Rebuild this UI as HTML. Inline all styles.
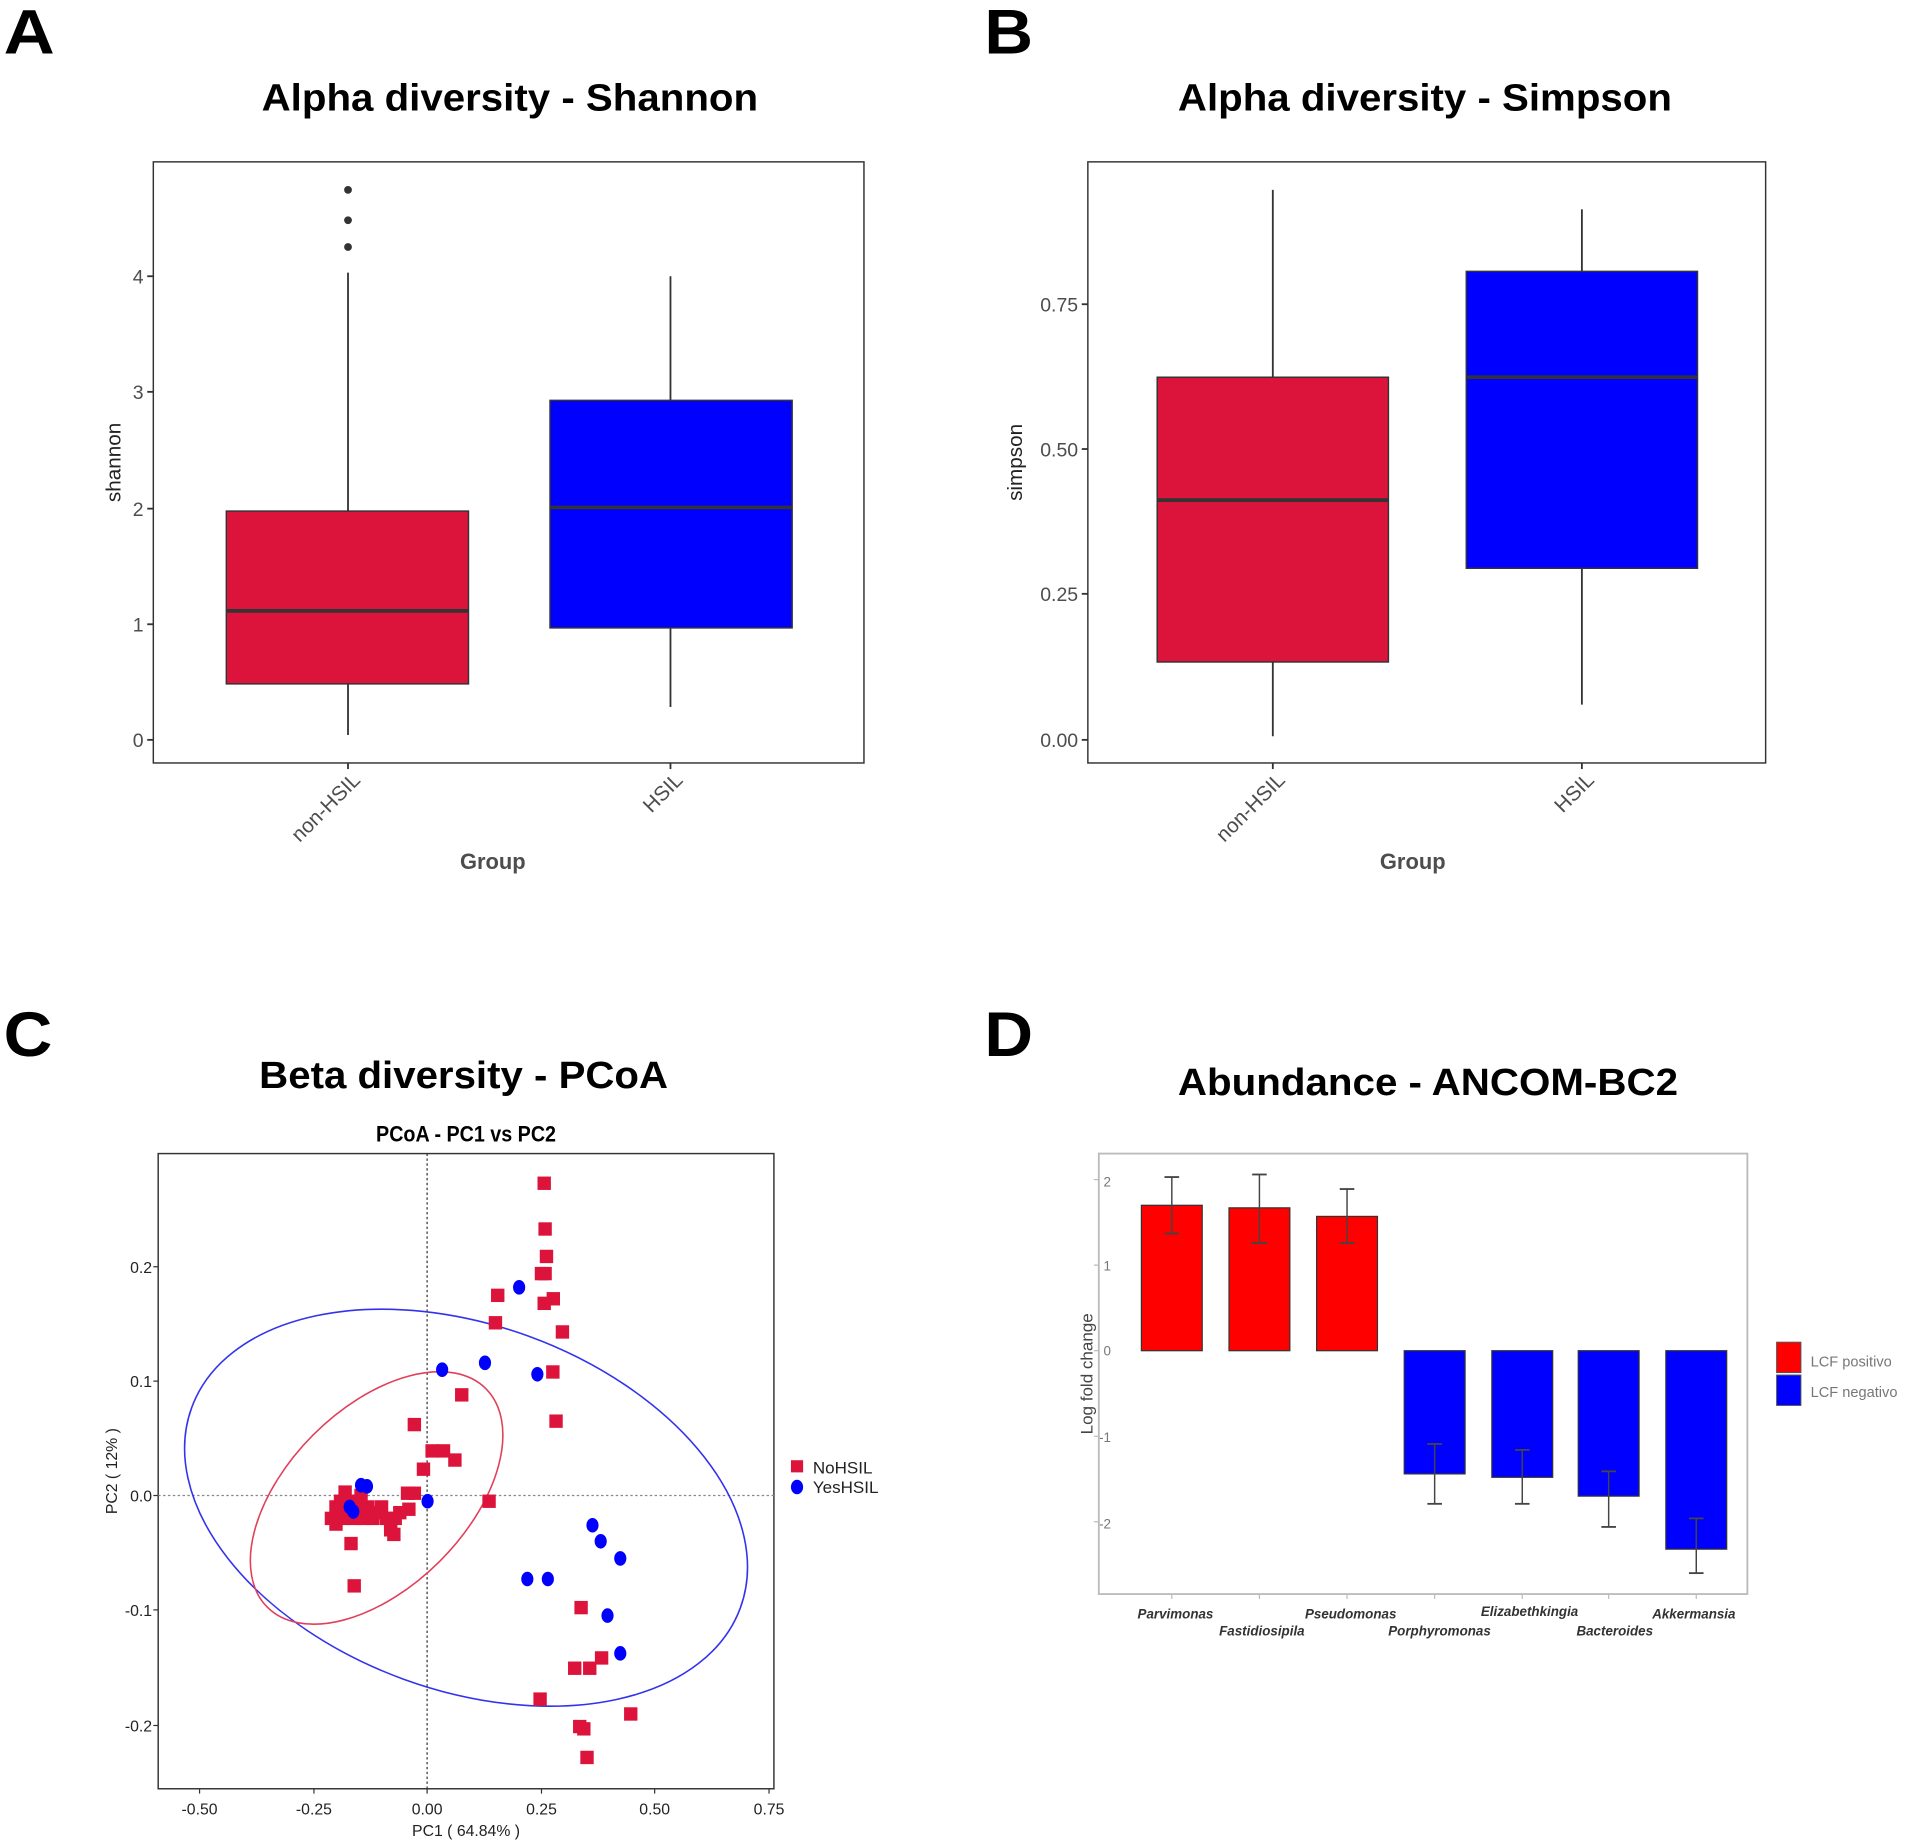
<!DOCTYPE html>
<html><head><meta charset="utf-8"><style>
html,body{margin:0;padding:0;background:#fff;}
svg{display:block;}
text{font-family:"Liberation Sans",sans-serif;}
</style></head><body>
<svg id="s" width="1908" height="1845" viewBox="0 0 1568 1516.2" xmlns="http://www.w3.org/2000/svg">
<rect width="1568" height="1516.2" fill="#fff"/>
<g font-weight="bold" fill="#000">
<text x="3" y="44" font-size="52" textLength="42" lengthAdjust="spacingAndGlyphs">A</text>
<text x="809" y="44" font-size="52" textLength="40" lengthAdjust="spacingAndGlyphs">B</text>
<text x="3" y="868" font-size="52" textLength="40" lengthAdjust="spacingAndGlyphs">C</text>
<text x="809" y="868" font-size="52" textLength="40" lengthAdjust="spacingAndGlyphs">D</text>
<text x="215" y="91" font-size="31" textLength="408" lengthAdjust="spacingAndGlyphs">Alpha diversity - Shannon</text>
<text x="968" y="91" font-size="31" textLength="406" lengthAdjust="spacingAndGlyphs">Alpha diversity - Simpson</text>
<text x="213" y="894" font-size="31" textLength="336" lengthAdjust="spacingAndGlyphs">Beta diversity - PCoA</text>
<text x="968" y="900" font-size="31" textLength="411" lengthAdjust="spacingAndGlyphs">Abundance - ANCOM-BC2</text>
</g>

<!-- Panel A -->
<rect x="126" y="133" width="584" height="494" fill="none" stroke="#333" stroke-width="1.2"/>
<g stroke="#333" stroke-width="1.5">
<line x1="121" x2="126" y1="608" y2="608"/><line x1="121" x2="126" y1="513" y2="513"/><line x1="121" x2="126" y1="418" y2="418"/><line x1="121" x2="126" y1="322" y2="322"/><line x1="121" x2="126" y1="227" y2="227"/>
<line x1="286" x2="286" y1="627" y2="632"/><line x1="551" x2="551" y1="627" y2="632"/>
<line x1="286" x2="286" y1="604" y2="562"/><line x1="286" x2="286" y1="420" y2="224"/>
<line x1="551" x2="551" y1="581" y2="516"/><line x1="551" x2="551" y1="329" y2="227"/>
</g>
<rect x="186" y="420" width="199" height="142" fill="#DC143C" stroke="#333" stroke-width="1.2"/>
<line x1="186" x2="385" y1="502" y2="502" stroke="#333" stroke-width="3"/>
<rect x="452" y="329" width="199" height="187" fill="#0000FF" stroke="#333" stroke-width="1.2"/>
<line x1="452" x2="651" y1="417" y2="417" stroke="#333" stroke-width="3"/>
<g fill="#333"><circle cx="286" cy="156" r="3.2"/><circle cx="286" cy="181" r="3.2"/><circle cx="286" cy="203" r="3.2"/></g>
<g font-size="16" fill="#4d4d4d" text-anchor="end">
<text x="118" y="614">0</text><text x="118" y="519">1</text><text x="118" y="424">2</text><text x="118" y="328">3</text><text x="118" y="233">4</text>
</g>
<text transform="translate(99,380) rotate(-90)" font-size="17" fill="#222" text-anchor="middle">shannon</text>
<text transform="translate(297,642) rotate(-45)" font-size="17" fill="#4d4d4d" text-anchor="end">non-HSIL</text>
<text transform="translate(562,642) rotate(-45)" font-size="17" fill="#4d4d4d" text-anchor="end">HSIL</text>
<text x="405" y="714" font-size="18" font-weight="bold" fill="#4d4d4d" text-anchor="middle">Group</text>

<!-- Panel B -->
<rect x="894" y="133" width="557" height="494" fill="none" stroke="#333" stroke-width="1.2"/>
<g stroke="#333" stroke-width="1.5">
<line x1="889" x2="894" y1="608" y2="608"/><line x1="889" x2="894" y1="488" y2="488"/><line x1="889" x2="894" y1="369" y2="369"/><line x1="889" x2="894" y1="250" y2="250"/>
<line x1="1046" x2="1046" y1="627" y2="632"/><line x1="1300" x2="1300" y1="627" y2="632"/>
<line x1="1046" x2="1046" y1="605" y2="544"/><line x1="1046" x2="1046" y1="310" y2="156"/>
<line x1="1300" x2="1300" y1="579" y2="467"/><line x1="1300" x2="1300" y1="223" y2="172"/>
</g>
<rect x="951" y="310" width="190" height="234" fill="#DC143C" stroke="#333" stroke-width="1.2"/>
<line x1="951" x2="1141" y1="411" y2="411" stroke="#333" stroke-width="3"/>
<rect x="1205" y="223" width="190" height="244" fill="#0000FF" stroke="#333" stroke-width="1.2"/>
<line x1="1205" x2="1395" y1="310" y2="310" stroke="#333" stroke-width="3"/>
<g font-size="16" fill="#4d4d4d" text-anchor="end">
<text x="886" y="614">0.00</text><text x="886" y="494">0.25</text><text x="886" y="375">0.50</text><text x="886" y="256">0.75</text>
</g>
<text transform="translate(840,380) rotate(-90)" font-size="17" fill="#222" text-anchor="middle">simpson</text>
<text transform="translate(1057,642) rotate(-45)" font-size="17" fill="#4d4d4d" text-anchor="end">non-HSIL</text>
<text transform="translate(1311,642) rotate(-45)" font-size="17" fill="#4d4d4d" text-anchor="end">HSIL</text>
<text x="1161" y="714" font-size="18" font-weight="bold" fill="#4d4d4d" text-anchor="middle">Group</text>

<!-- Panel C -->
<text x="383" y="938" font-size="18" font-weight="bold" text-anchor="middle" transform="translate(383,0) scale(0.9,1) translate(-383,0)">PCoA - PC1 vs PC2</text>
<rect x="130" y="948" width="506" height="522" fill="none" stroke="#333" stroke-width="1.2"/>
<line x1="351" x2="351" y1="948" y2="1470" stroke="#333" stroke-width="1" stroke-dasharray="2,2"/>
<line x1="130" x2="636" y1="1229" y2="1229" stroke="#888" stroke-width="1" stroke-dasharray="2,2"/>
<ellipse cx="383" cy="1239" rx="240" ry="150" transform="rotate(20 383 1239)" fill="none" stroke="#3333ee" stroke-width="1.3"/>
<ellipse cx="309.5" cy="1231" rx="127" ry="73.5" transform="rotate(-45 309.5 1231)" fill="none" stroke="#e0405a" stroke-width="1.3"/>
<g id="pts"></g>
<g font-size="13" fill="#222" text-anchor="middle">
<text x="164" y="1491">-0.50</text><text x="258" y="1491">-0.25</text><text x="351" y="1491">0.00</text><text x="445" y="1491">0.25</text><text x="538" y="1491">0.50</text><text x="632" y="1491">0.75</text>
<text x="383" y="1509">PC1 ( 64.84% )</text>
</g>
<g font-size="13" fill="#222" text-anchor="end">
<text x="125" y="1046">0.2</text><text x="125" y="1140">0.1</text><text x="125" y="1234">0.0</text><text x="125" y="1328">-0.1</text><text x="125" y="1423">-0.2</text>
</g>
<g stroke="#333"><line x1="126" x2="130" y1="1041" y2="1041"/><line x1="126" x2="130" y1="1135" y2="1135"/><line x1="126" x2="130" y1="1229" y2="1229"/><line x1="126" x2="130" y1="1323" y2="1323"/><line x1="126" x2="130" y1="1418" y2="1418"/>
<line x1="164" x2="164" y1="1470" y2="1474"/><line x1="258" x2="258" y1="1470" y2="1474"/><line x1="351" x2="351" y1="1470" y2="1474"/><line x1="445" x2="445" y1="1470" y2="1474"/><line x1="538" x2="538" y1="1470" y2="1474"/><line x1="632" x2="632" y1="1470" y2="1474"/></g>
<text transform="translate(96,1209) rotate(-90)" font-size="13" fill="#222" text-anchor="middle">PC2 ( 12% )</text>
<rect x="650" y="1200" width="10" height="10" fill="#DC143C"/>
<ellipse cx="655" cy="1222" rx="5" ry="6" fill="#0000FF"/>
<text x="668" y="1211" font-size="14" fill="#222">NoHSIL</text>
<text x="668" y="1227" font-size="14" fill="#222">YesHSIL</text>

<!-- Panel D -->
<rect x="903" y="948" width="533" height="362" fill="none" stroke="#bbb" stroke-width="1.5"/>
<g id="bars"></g>
<g font-size="11" fill="#777" text-anchor="end">
<text x="913" y="975">2</text><text x="913" y="1044">1</text><text x="913" y="1114">0</text><text x="913" y="1185">-1</text><text x="913" y="1256">-2</text>
</g>
<text transform="translate(898,1129) rotate(-90)" font-size="14" fill="#444" text-anchor="middle">Log fold change</text>
<g font-size="11" font-weight="bold" font-style="italic" fill="#333" text-anchor="middle">
<text x="966" y="1330">Parvimonas</text><text x="1037" y="1344">Fastidiosipila</text><text x="1110" y="1330">Pseudomonas</text><text x="1183" y="1344">Porphyromonas</text><text x="1257" y="1328">Elizabethkingia</text><text x="1327" y="1344">Bacteroides</text><text x="1392" y="1330">Akkermansia</text>
</g>
<rect x="1460" y="1103" width="20" height="25" fill="#FF0000" stroke="#555" stroke-width="0.8"/>
<rect x="1460" y="1130" width="20" height="25" fill="#0000FF" stroke="#555" stroke-width="0.8"/>
<text x="1488" y="1123" font-size="12" fill="#777">LCF positivo</text>
<text x="1488" y="1148" font-size="12" fill="#777">LCF negativo</text>
</svg>
<script>
var NS="http://www.w3.org/2000/svg";
function el(p,t,a){var e=document.createElementNS(NS,t);for(var k in a)e.setAttribute(k,a[k]);p.appendChild(e);return e;}
var g=document.getElementById("pts");
function X(v){return 351+374.4*v;} function Y(v){return 1229-940*v;}
var red=[[0.257,0.273],[0.259,0.233],[0.262,0.209],[0.251,0.194],[0.259,0.194],[0.155,0.175],[0.277,0.172],[0.257,0.168],[0.150,0.151],[0.297,0.143],[0.276,0.108],[0.076,0.088],[0.283,0.065],[-0.028,0.062],[0.011,0.039],[0.036,0.039],[0.061,0.031],[-0.008,0.023],[-0.028,0.002],[-0.043,0.002],[0.136,-0.005],[-0.167,-0.042],[-0.073,-0.034],[-0.160,-0.079],[0.338,-0.098],[0.324,-0.151],[0.357,-0.151],[0.383,-0.142],[0.248,-0.178],[0.447,-0.191],[0.335,-0.202],[0.344,-0.204],[0.351,-0.229],
[-0.21,-0.02],[-0.20,-0.01],[-0.19,-0.005],[-0.18,0.003],[-0.17,-0.015],[-0.16,-0.02],[-0.15,-0.005],[-0.14,-0.02],[-0.13,-0.01],[-0.12,-0.02],[-0.11,-0.015],[-0.10,-0.01],[-0.09,-0.02],[-0.08,-0.025],[-0.07,-0.02],[-0.06,-0.015],[-0.04,-0.012],[-0.20,-0.025],[-0.185,-0.02],[-0.165,-0.005],[-0.145,0.0],[-0.08,-0.03],[-0.19,-0.012],[-0.155,-0.01]];
red.forEach(function(p){el(g,"rect",{x:X(p[0])-5.5,y:Y(p[1])-5.5,width:11,height:11,fill:"#DC143C"});});
var blue=[[0.202,0.182],[0.033,0.110],[0.127,0.116],[0.242,0.106],[0.001,-0.005],[-0.145,0.009],[-0.132,0.008],[-0.162,-0.014],[-0.17,-0.01],[0.363,-0.026],[0.381,-0.040],[0.424,-0.055],[0.220,-0.073],[0.265,-0.073],[0.396,-0.105],[0.424,-0.138]];
blue.forEach(function(p){el(g,"ellipse",{cx:X(p[0]),cy:Y(p[1]),rx:5,ry:6,fill:"#0000FF"});});
var b=document.getElementById("bars");
function YD(v){return 1110-70.3*v;}
var bars=[[963,1.70,1.37,2.03],[1035,1.67,1.26,2.06],[1107,1.57,1.26,1.89],[1179,-1.44,-1.09,-1.79],[1251,-1.48,-1.16,-1.79],[1322,-1.70,-1.41,-2.06],[1394,-2.32,-1.96,-2.60]];
bars.forEach(function(d){var y0=YD(0),y1=YD(d[1]);
el(b,"rect",{x:d[0]-25,y:Math.min(y0,y1),width:50,height:Math.abs(y1-y0),fill:d[1]>0?"#FF0000":"#0000FF",stroke:"#333","stroke-width":1});
var e1=YD(d[2]),e2=YD(d[3]);
el(b,"line",{x1:d[0],x2:d[0],y1:e1,y2:e2,stroke:"#444","stroke-width":1.2});
el(b,"line",{x1:d[0]-6,x2:d[0]+6,y1:e1,y2:e1,stroke:"#444","stroke-width":1.5});
el(b,"line",{x1:d[0]-6,x2:d[0]+6,y1:e2,y2:e2,stroke:"#444","stroke-width":1.5});
el(b,"line",{x1:d[0],x2:d[0],y1:1310,y2:1314,stroke:"#bbb","stroke-width":1});
});
[2,1,0,-1,-2].forEach(function(v){el(b,"line",{x1:899,x2:903,y1:YD(v),y2:YD(v),stroke:"#bbb"});});
</script>
</body></html>
